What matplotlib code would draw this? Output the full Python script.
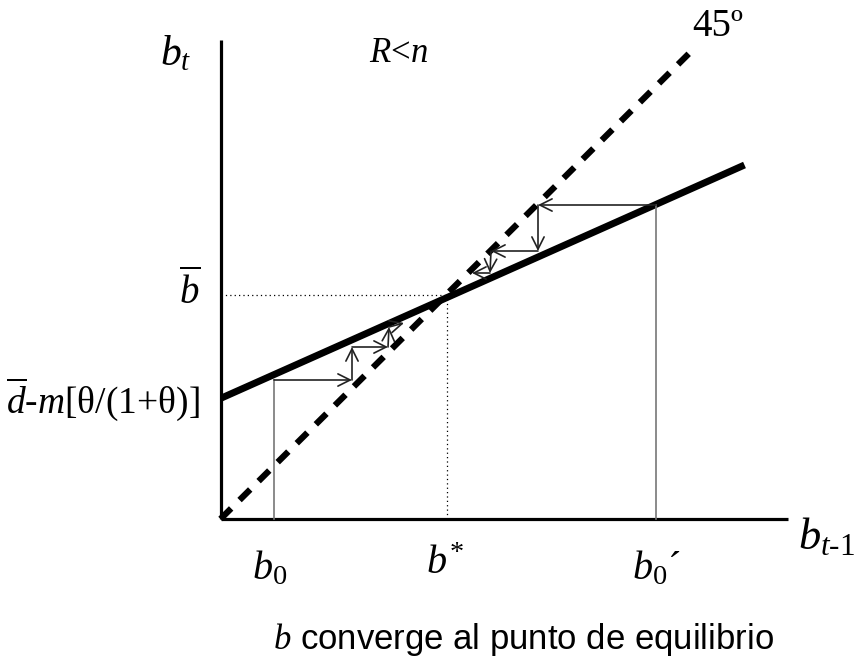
import numpy as np
import matplotlib
matplotlib.use("Agg")
import matplotlib.pyplot as plt

plt.rcParams['font.family'] = ['Liberation Serif', 'DejaVu Serif']
plt.rcParams['mathtext.fontset'] = 'custom'
plt.rcParams['mathtext.rm'] = 'Liberation Serif'
plt.rcParams['mathtext.it'] = 'Liberation Serif:italic'

# axes extents (units: b_{t-1} horizontal, b_t vertical)
x_axis_end = 568
y_axis_end = 479

# 45 degree line and the b_t = f(b_{t-1}) line, end points
diag_x = [0, 470]
diag_y = [0, 467]
line_x = [1, 524]
line_y = [121, 354]

# equilibrium
b_star = 226.5
b_bar = 224

# starting points and their first images
b0 = 53.5
b0_img = 139
b0p = 435.5
b0p_img = 314

# cobweb paths (from b0 upwards, from b0' downwards)
left_x = [53.5, 131.5, 131.5, 167.5, 168.5, 183.5]
left_y = [139, 139, 172, 172, 192, 196]
right_x = [435.5, 317.5, 317.5, 270.5, 269.5, 251.5]
right_y = [314, 314, 268, 268, 246, 246]

fig = plt.figure(figsize=(8.56, 6.62), dpi=100)
ax = fig.add_axes([0, 0, 1, 1])
ax.set_xlim(-220.5, 635.5)
ax.set_ylim(-143, 519)
ax.axis('off')

# axes
ax.plot([0, 0], [0, y_axis_end], color='black', lw=2.3, solid_capstyle='butt')
ax.plot([0, x_axis_end], [0, 0], color='black', lw=2.3, solid_capstyle='butt')

# lines
ax.plot(diag_x, diag_y, color='black', lw=4.5, dashes=(2.4, 1.9), dash_capstyle='butt')
ax.plot(line_x, line_y, color='black', lw=5, solid_capstyle='butt')

# equilibrium guides
ax.plot([0, b_star], [b_bar, b_bar], color='black', lw=0.9, dashes=(1, 2.5))
ax.plot([b_star, b_star], [0, b_bar], color='black', lw=0.9, dashes=(1, 2.5))

# starting verticals
ax.plot([b0, b0], [0, b0_img], color='#777777', lw=1.2)
ax.plot([b0p, b0p], [0, b0p_img], color='#777777', lw=1.2)

# cobweb arrows
for xs, ys in [(left_x, left_y), (right_x, right_y)]:
    for i in range(len(xs) - 1):
        ax.annotate('', xy=(xs[i + 1], ys[i + 1]), xytext=(xs[i], ys[i]),
                    arrowprops=dict(arrowstyle='->', lw=1.2, color='#222222',
                                    mutation_scale=22, shrinkA=0, shrinkB=0))

# labels
ax.text(-45, 465, r'$b_t$', fontsize=30, ha='center', va='center')
ax.text(178, 466, r'$R$<$n$', fontsize=25, ha='center', va='center')
ax.text(497, 492, '45º', fontsize=28, ha='center', va='center')
ax.text(-20.5, 227, r'$\overline{b}$', fontsize=28, ha='right', va='center')
ax.text(-20.5, 120, r'$\overline{d}$-$m$[θ/(1+θ)]', fontsize=27, ha='right', va='center')
ax.text(b0 - 4, -50, r'$b_{\mathit{0}}$', fontsize=29, ha='center', va='center')
ax.text(b_star - 2, -45, r'$b^{\!*}$', fontsize=29, ha='center', va='center')
ax.text(b0p, -50, r'$b_{\mathit{0}}$´', fontsize=29, ha='center', va='center')
ax.text(578, -18, r'$b_{t\text{-}\mathit{1}}$', fontsize=32, ha='left', va='center')
ax.text(302.5, -121, r'$b$ converge al punto de equilibrio', fontsize=25,
        ha='center', va='center', family=['Liberation Sans', 'DejaVu Sans'])

fig.savefig('out.png', dpi=100)
